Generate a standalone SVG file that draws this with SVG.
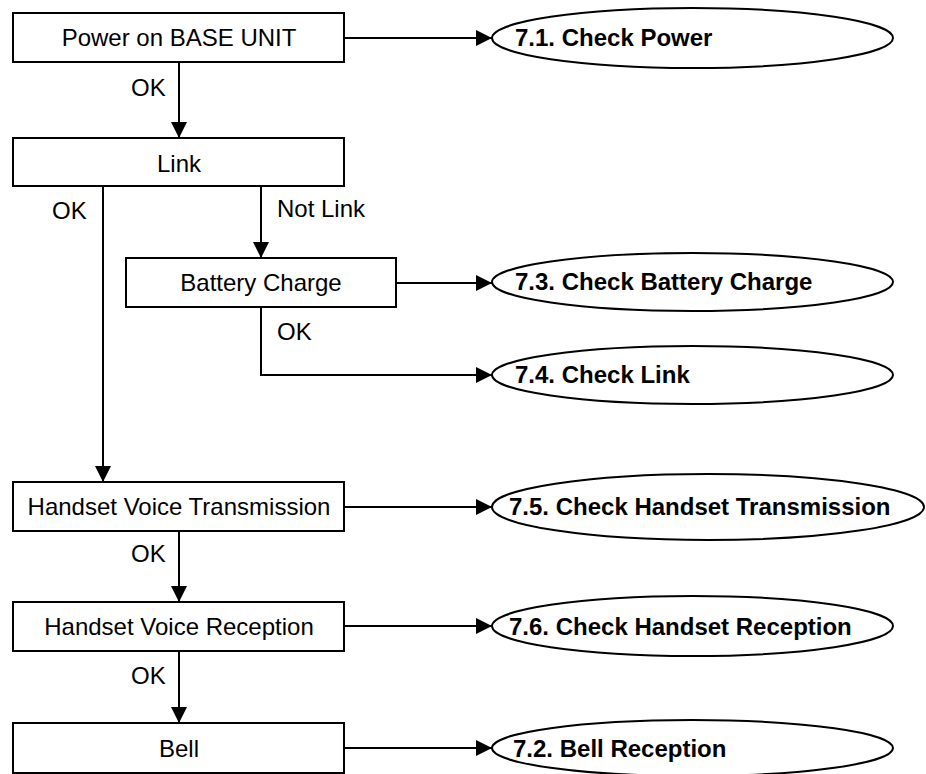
<svg xmlns="http://www.w3.org/2000/svg" width="926" height="774" viewBox="0 0 926 774">
  <style>
    .box { fill: #fff; stroke: #000; stroke-width: 2; }
    .oval { fill: #fff; stroke: #000; stroke-width: 2; }
    .wire { fill: none; stroke: #000; stroke-width: 2; }
    .lbl { font-family: "Liberation Sans", Arial, sans-serif; font-size: 24px; fill: #000; }
    .mid { text-anchor: middle; }
    .bold { font-weight: bold; }
  </style>
  <defs>
    <marker id="arrow" markerUnits="userSpaceOnUse" markerWidth="17" markerHeight="16" refX="16" refY="8" orient="auto">
      <path d="M0,0 L16,8 L0,16 Z" fill="#000"/>
    </marker>
  </defs>
  <rect width="926" height="774" fill="#fff"/>

  <!-- connectors -->
  <g id="connectors">
    <path class="wire" d="M344,38 H492" marker-end="url(#arrow)"/>
    <path class="wire" d="M179,62 V138" marker-end="url(#arrow)"/>
    <path class="wire" d="M103,186 V482" marker-end="url(#arrow)"/>
    <path class="wire" d="M261,186 V258" marker-end="url(#arrow)"/>
    <path class="wire" d="M396,283 H492" marker-end="url(#arrow)"/>
    <path class="wire" d="M261,307 V375 H492" marker-end="url(#arrow)"/>
    <path class="wire" d="M344,507 H492" marker-end="url(#arrow)"/>
    <path class="wire" d="M179,531 V602" marker-end="url(#arrow)"/>
    <path class="wire" d="M344,626 H492" marker-end="url(#arrow)"/>
    <path class="wire" d="M179,651 V723" marker-end="url(#arrow)"/>
    <path class="wire" d="M344,748 H492" marker-end="url(#arrow)"/>
    <text class="lbl" x="131" y="96">OK</text>
    <text class="lbl" x="52" y="219">OK</text>
    <text class="lbl" x="277" y="217">Not Link</text>
    <text class="lbl" x="277" y="340">OK</text>
    <text class="lbl" x="131" y="562">OK</text>
    <text class="lbl" x="131" y="684">OK</text>
  </g>

  <!-- process boxes -->
  <g id="power">
    <rect class="box" x="13" y="13" width="331" height="49"/>
    <text class="lbl mid" x="179" y="46">Power on BASE UNIT</text>
  </g>
  <g id="link">
    <rect class="box" x="13" y="138" width="331" height="48"/>
    <text class="lbl mid" x="179" y="172">Link</text>
  </g>
  <g id="battery">
    <rect class="box" x="126" y="258" width="270" height="49"/>
    <text class="lbl mid" x="261" y="291">Battery Charge</text>
  </g>
  <g id="transmission">
    <rect class="box" x="13" y="482" width="331" height="49"/>
    <text class="lbl mid" x="179" y="515">Handset Voice Transmission</text>
  </g>
  <g id="reception">
    <rect class="box" x="13" y="602" width="331" height="49"/>
    <text class="lbl mid" x="179" y="635">Handset Voice Reception</text>
  </g>
  <g id="bell">
    <rect class="box" x="13" y="723" width="331" height="50"/>
    <text class="lbl mid" x="179" y="757">Bell</text>
  </g>

  <!-- check procedures -->
  <g id="check-power">
    <ellipse class="oval" cx="692.5" cy="38" rx="200.5" ry="30"/>
    <text class="lbl bold" x="515" y="46">7.1. Check Power</text>
  </g>
  <g id="check-battery">
    <ellipse class="oval" cx="692.5" cy="282" rx="200.5" ry="29"/>
    <text class="lbl bold" x="515" y="290">7.3. Check Battery Charge</text>
  </g>
  <g id="check-link">
    <ellipse class="oval" cx="692.5" cy="375" rx="200.5" ry="29"/>
    <text class="lbl bold" x="515" y="383">7.4. Check Link</text>
  </g>
  <g id="check-transmission">
    <ellipse class="oval" cx="708" cy="507" rx="216" ry="33"/>
    <text class="lbl bold" x="509" y="515">7.5. Check Handset Transmission</text>
  </g>
  <g id="check-reception">
    <ellipse class="oval" cx="692.5" cy="626" rx="200.5" ry="30"/>
    <text class="lbl bold" x="509" y="635">7.6. Check Handset Reception</text>
  </g>
  <g id="check-bell">
    <ellipse class="oval" cx="692.5" cy="748" rx="200.5" ry="28"/>
    <text class="lbl bold" x="513" y="757">7.2. Bell Reception</text>
  </g>
</svg>
